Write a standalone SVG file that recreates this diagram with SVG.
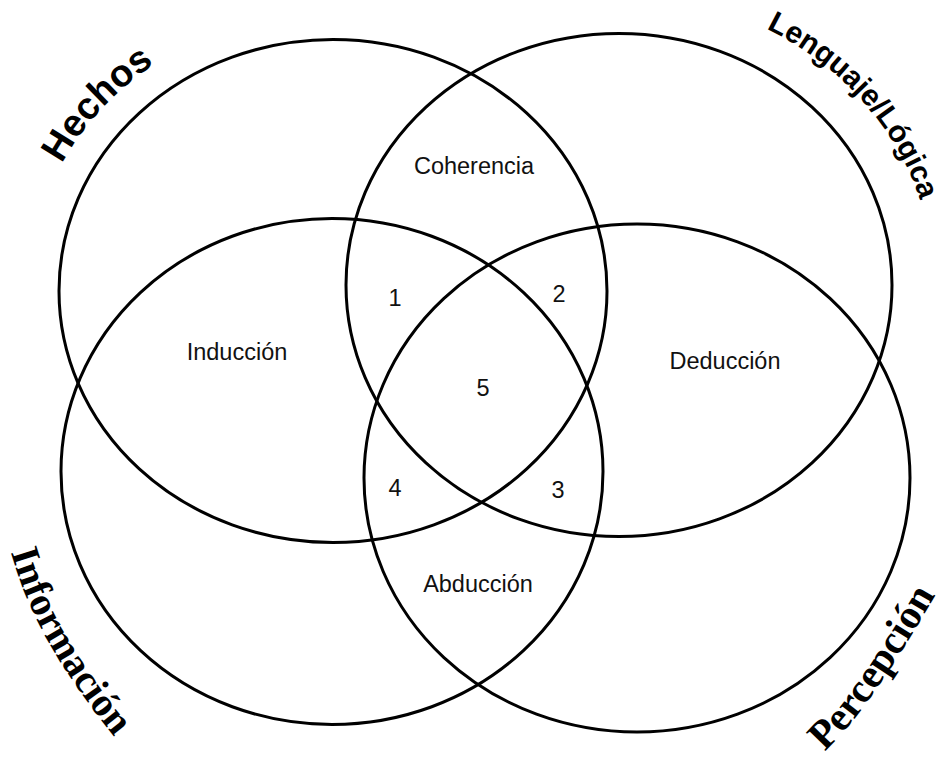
<svg xmlns="http://www.w3.org/2000/svg" width="945" height="757" viewBox="0 0 945 757">
<style>
.set{fill:none;stroke:#000;stroke-width:3}
.lbl{font-family:"Liberation Sans",Arial,sans-serif;font-size:23.5px;fill:#111;text-anchor:middle}
.sans{font-family:"Liberation Sans",Arial,sans-serif;font-weight:bold;fill:#000}
.serif{font-family:"Liberation Serif","Times New Roman",serif;font-weight:bold;fill:#000}
</style>
<defs>
<path id="pHechos" d="M 33.6 241.6 A 304 279 0 0 1 229 27.8"/>
<path id="pLeng" d="M 684.5 1.4 A 315 290 0 0 1 934 285"/>
<path id="pInfo" d="M 3.9 530.9 L 16 569 Q 40 644.5 112 734 L 137.1 765.2"/>
<path id="pPerc" d="M 807.1 770.2 L 834.8 741.4 Q 874.9 699.65 938.2 590.5 L 958.3 555.9"/>
</defs>
<rect width="945" height="757" fill="#fff"/>
<g id="hechos">
<ellipse class="set" cx="333" cy="291" rx="274" ry="251.5"/>
<text class="sans" font-size="38" text-anchor="middle"><textPath href="#pHechos" startOffset="50%">Hechos</textPath></text>
</g>
<g id="lenguaje">
<ellipse class="set" cx="619" cy="285" rx="273" ry="251.5"/>
<text class="sans" font-size="30" text-anchor="middle"><textPath href="#pLeng" startOffset="50%">Lenguaje/Lógica</textPath></text>
</g>
<g id="informacion">
<ellipse class="set" cx="332" cy="471.5" rx="271" ry="253"/>
<text class="serif" font-size="40" text-anchor="middle"><textPath href="#pInfo" startOffset="129">Información</textPath></text>
</g>
<g id="percepcion">
<ellipse class="set" cx="637" cy="478" rx="273" ry="254"/>
<text class="serif" font-size="41" text-anchor="middle"><textPath href="#pPerc" startOffset="122">Percepción</textPath></text>
</g>
<g id="regions">
<text class="lbl" x="474" y="174">Coherencia</text>
<text class="lbl" x="237" y="360">Inducción</text>
<text class="lbl" x="725" y="369">Deducción</text>
<text class="lbl" x="478" y="592">Abducción</text>
<text class="lbl" x="395" y="306">1</text>
<text class="lbl" x="559" y="302">2</text>
<text class="lbl" x="558" y="498">3</text>
<text class="lbl" x="395" y="496">4</text>
<text class="lbl" x="483" y="396">5</text>
</g>
</svg>
